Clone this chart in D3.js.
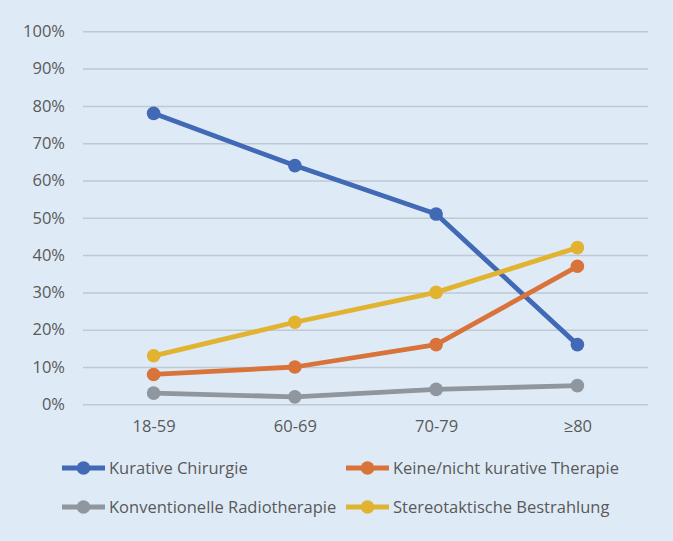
<!DOCTYPE html>
<html><head><meta charset="utf-8">
<script src="https://cdn.jsdelivr.net/npm/d3@7"></script>
<style>html,body{margin:0;padding:0;background:#deebf7;}svg{display:block;}</style>
</head><body>
<svg id="c" width="673" height="541"></svg>
<script>
const categories = ["18-59", "60-69", "70-79", "≥80"];
const seriesNames = ["Kurative Chirurgie", "Keine/nicht kurative Therapie", "Konventionelle Radiotherapie", "Stereotaktische Bestrahlung"];
const kurativeChirurgie = [78, 64, 51, 16];
const keineTherapie = [8, 10, 16, 37];
const konventionelleRadiotherapie = [3, 2, 4, 5];
const stereotaktischeBestrahlung = [13, 22, 30, 42];
const yTicks = [0, 10, 20, 30, 40, 50, 60, 70, 80, 90, 100];
const colors = ["#4169b5", "#d9733a", "#8f969d", "#e2b231"];

const series = [kurativeChirurgie, keineTherapie, konventionelleRadiotherapie, stereotaktischeBestrahlung];
const svg = d3.select("#c");
const font = "'Open Sans', sans-serif";
const fs = "16.5px";
svg.append("rect").attr("width",673).attr("height",541).attr("fill","#deebf7");

const x = d3.scalePoint().domain(categories).range([153.6, 577.4]);
const y = d3.scaleLinear().domain([0,100]).range([404.3, 31.3]);

const yAxis = d3.axisLeft(y).tickValues(yTicks).tickFormat(d => d + "%").tickSize(-565).tickPadding(18);
const gy = svg.append("g").attr("transform","translate(83,0)").call(yAxis);
gy.select(".domain").remove();
gy.selectAll(".tick line").attr("stroke","#bfc9d3").attr("stroke-width",1.5);
gy.selectAll(".tick text").attr("fill","#595959").style("font-family",font).style("font-size",fs);

const xAxis = d3.axisBottom(x).tickSize(0).tickPadding(16);
const gx = svg.append("g").attr("transform","translate(0,404.3)").call(xAxis);
gx.select(".domain").remove();
gx.selectAll(".tick text").attr("fill","#595959").style("font-family",font).style("font-size",fs);

const line = d3.line().x((d,i)=>x(categories[i])).y(d=>y(d));
series.forEach((s, k) => {
  svg.append("path").datum(s).attr("d", line).attr("fill","none")
    .attr("stroke", colors[k]).attr("stroke-width",4.8).attr("stroke-linejoin","round");
  svg.selectAll(null).data(s).enter().append("circle")
    .attr("cx",(d,i)=>x(categories[i])).attr("cy",d=>y(d)).attr("r",6.8).attr("fill",colors[k]);
});

const legendPos = [[62,468],[346,468],[62,507],[346,507]];
seriesNames.forEach((n,k) => {
  const [lx, ly] = legendPos[k];
  const g = svg.append("g").attr("transform",`translate(${lx},${ly})`);
  g.append("line").attr("x1",0).attr("x2",43).attr("y1",0).attr("y2",0).attr("stroke",colors[k]).attr("stroke-width",4.8);
  g.append("circle").attr("cx",21.5).attr("cy",0).attr("r",6.8).attr("fill",colors[k]);
  g.append("text").attr("x",47).attr("y",0).attr("dy","0.35em").text(n)
    .attr("fill","#595959").style("font-family",font).style("font-size",fs);
});
</script>
</body></html>
